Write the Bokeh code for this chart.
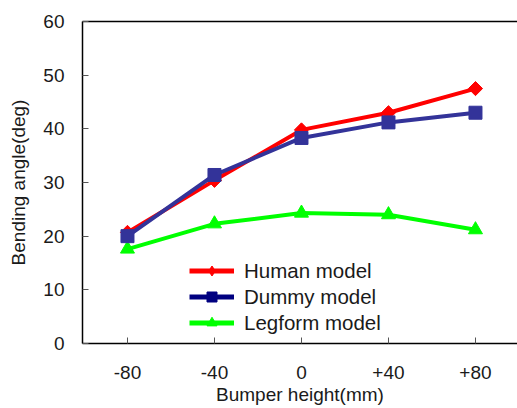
import math
from bokeh.plotting import figure
from bokeh.models import (ColumnDataSource, Range1d, FixedTicker, LinearAxis,
                          Legend, LegendItem)
from bokeh.embed import file_html
from bokeh.resources import INLINE

categories = ["-80", "-40", "0", "+40", "+80"]
human = [20.7, 30.4, 39.8, 43.0, 47.5]
dummy = [20.0, 31.4, 38.3, 41.2, 43.0]
legform = [17.6, 22.3, 24.3, 24.0, 21.2]
y_ticks = [0, 10, 20, 30, 40, 50, 60]

xs = list(range(len(categories)))
src = ColumnDataSource(dict(x=xs, human=human, dummy=dummy, legform=legform))

FONT = "Liberation Sans"
TXT = "#1a1a1a"

p = figure(width=517, height=408, output_backend="svg", toolbar_location=None,
           x_range=Range1d(-0.517, 4.483), y_range=Range1d(0, 60),
           min_border_left=82, min_border_right=0, min_border_top=21,
           min_border_bottom=65)
p.outline_line_color = None
p.grid.visible = False
p.background_fill_color = "white"
p.border_fill_color = "white"

RED = "#ff0000"
BLUE = "#333399"
GREEN = "#00ff00"

p.line("x", "legform", source=src, line_color=GREEN, line_width=4)
p.scatter("x", "legform", source=src, marker="triangle", size=14,
          fill_color=GREEN, line_color=GREEN, line_width=1)
p.line("x", "human", source=src, line_color=RED, line_width=4)
p.scatter("x", "human", source=src, marker="square", angle=math.pi / 4, size=10,
          fill_color=RED, line_color=RED, line_width=1)
p.line("x", "dummy", source=src, line_color=BLUE, line_width=4)
p.scatter("x", "dummy", source=src, marker="square", size=13,
          fill_color=BLUE, line_color=BLUE, line_width=1)

# legend-only renderers (a single off-range point each)
nan = float("nan")
empty = ColumnDataSource(dict(x=[nan], y=[nan]))
lh1 = p.line("x", "y", source=empty, line_color=RED, line_width=5)
lh2 = p.scatter("x", "y", source=empty, marker="diamond", size=17, fill_color=RED, line_color=RED)
ld1 = p.line("x", "y", source=empty, line_color="#000080", line_width=5)
ld2 = p.scatter("x", "y", source=empty, marker="square", size=12, fill_color="#000080", line_color="#000080")
ll1 = p.line("x", "y", source=empty, line_color=GREEN, line_width=5)
ll2 = p.scatter("x", "y", source=empty, marker="triangle", size=12, fill_color=GREEN, line_color=GREEN)

legend = Legend(items=[
    LegendItem(label="Human model", renderers=[lh1, lh2], index=0),
    LegendItem(label="Dummy model", renderers=[ld1, ld2], index=0),
    LegendItem(label="Legform model", renderers=[ll1, ll2], index=0),
], location=(107, 8))
legend.border_line_color = None
legend.background_fill_alpha = 0
legend.padding = 0
legend.margin = 0
legend.spacing = 1
legend.glyph_width = 45
legend.glyph_height = 25
legend.label_standoff = 10
legend.label_text_font = FONT
legend.label_text_font_size = "20.5px"
legend.label_text_color = TXT
legend.label_height = 25
p.add_layout(legend, "center")

xa = p.xaxis[0]
xa.ticker = FixedTicker(ticks=xs)
xa.major_label_overrides = {i: c for i, c in enumerate(categories)}
xa.axis_label = "Bumper height(mm)"
xa.minor_tick_line_color = None
xa.major_tick_in = 6
xa.major_tick_out = 0
xa.major_label_standoff = 22
xa.axis_label_standoff = 2

ya = p.yaxis[0]
ya.ticker = FixedTicker(ticks=y_ticks)
ya.axis_label = "Bending angle(deg)"
ya.minor_tick_line_color = None
ya.major_tick_in = 6
ya.major_tick_out = 0
ya.major_label_standoff = 18
ya.axis_label_standoff = 11

for ax in (xa, ya):
    ax.axis_line_color = "black"
    ax.axis_line_width = 1.5
    ax.major_tick_line_color = "#555555"
    ax.major_tick_line_width = 1
    ax.major_label_text_font = FONT
    ax.major_label_text_font_size = "19px"
    ax.major_label_text_color = TXT
    ax.axis_label_text_font = FONT
    ax.axis_label_text_font_size = "19px"
    ax.axis_label_text_font_style = "normal"
    ax.axis_label_text_color = TXT

top = LinearAxis(ticker=FixedTicker(ticks=[]), axis_line_color="black",
                 axis_line_width=1.5, major_tick_in=0, major_tick_out=0,
                 minor_tick_in=0, minor_tick_out=0, major_label_text_font_size="0px")
p.add_layout(top, "above")

open("out.html", "w").write(file_html(p, INLINE))
